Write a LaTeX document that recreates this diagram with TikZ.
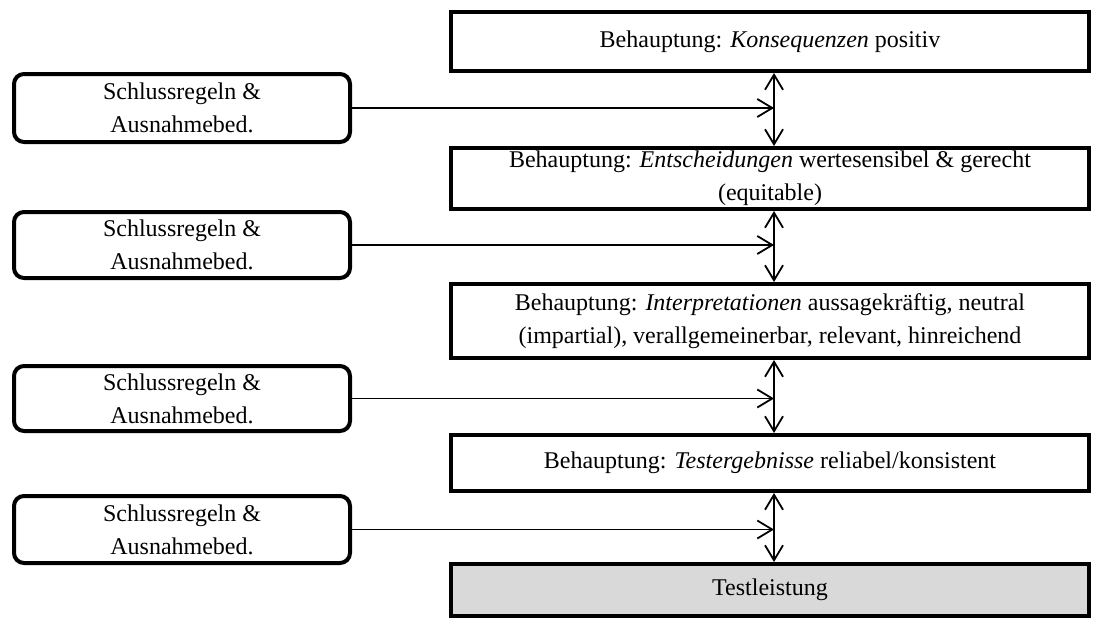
\documentclass[tikz,border=0pt]{standalone}
\usepackage{fontspec}
\setmainfont{Liberation Serif}
\usetikzlibrary{arrows.meta}

\begin{document}
\begin{tikzpicture}[x=1pt, y=-1pt,
    font=\fontsize{24}{33}\selectfont,
    claim/.style={draw, line width=4pt, minimum width=638pt, align=center, inner sep=0pt},
    warrant/.style={draw, line width=4pt, rounded corners=10pt, minimum width=336pt, align=center, inner sep=0pt},
    link/.style={line width=1.8pt, -{Straight Barb[length=15pt,width=18pt]}},
    both/.style={line width=1.8pt, {Straight Barb[length=15pt,width=18pt]}-{Straight Barb[length=15pt,width=18pt]}}]
    \useasboundingbox (0,0) rectangle (1093,621);
    % Claims
    \node[claim, minimum height=59pt] (kons) at (770,41.5) {Behauptung: \textit{Konsequenzen} positiv};
    \node[claim, minimum height=61pt] (ents) at (770,178.5) {Behauptung: \textit{Entscheidungen} wertesensibel \& gerecht\\(equitable)};
    \node[claim, minimum height=74pt] (interp) at (770,321) {Behauptung: \textit{Interpretationen} aussagekräftig, neutral\\(impartial), verallgemeinerbar, relevant, hinreichend};
    \node[claim, minimum height=56pt] (erg) at (770,463) {Behauptung: \textit{Testergebnisse} reliabel/konsistent};
    \node[claim, minimum height=52pt, fill=gray!30] (leist) at (770,590) {Testleistung};
    % Warrants
    \node[warrant, minimum height=68pt] (w1) at (182,108) {Schlussregeln \&\\Ausnahmebed.};
    \node[warrant, minimum height=66pt] (w2) at (182,245) {Schlussregeln \&\\Ausnahmebed.};
    \node[warrant, minimum height=65pt] (w3) at (182,398.5) {Schlussregeln \&\\Ausnahmebed.};
    \node[warrant, minimum height=67pt] (w4) at (182,529.5) {Schlussregeln \&\\Ausnahmebed.};
    % Arrows
    \coordinate (axis) at ([xshift=4pt]kons.south);
    \draw[both] (kons.south -| axis) -- (ents.north -| axis);
    \draw[both] (ents.south -| axis) -- (interp.north -| axis);
    \draw[both] (interp.south -| axis) -- (erg.north -| axis);
    \draw[both] (erg.south -| axis) -- (leist.north -| axis);
    \draw[link] (w1.east) -- (w1.east -| axis);
    \draw[link] (w2.east) -- (w2.east -| axis);
    \draw[link] (w3.east) -- (w3.east -| axis);
    \draw[link] (w4.east) -- (w4.east -| axis);
\end{tikzpicture}
\end{document}
